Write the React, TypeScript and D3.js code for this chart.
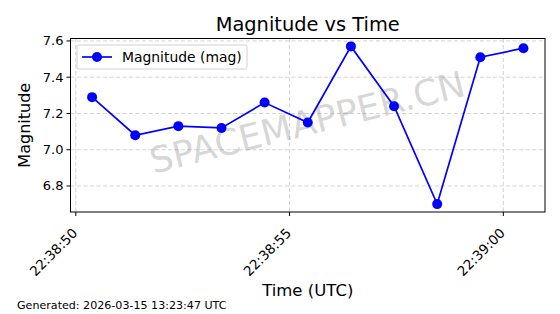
import React from "react";
import * as d3 from "d3";

const times = [
  "2026-03-15T22:38:50.381Z",
  "2026-03-15T22:38:51.390Z",
  "2026-03-15T22:38:52.399Z",
  "2026-03-15T22:38:53.408Z",
  "2026-03-15T22:38:54.417Z",
  "2026-03-15T22:38:55.426Z",
  "2026-03-15T22:38:56.435Z",
  "2026-03-15T22:38:57.444Z",
  "2026-03-15T22:38:58.453Z",
  "2026-03-15T22:38:59.462Z",
  "2026-03-15T22:39:00.471Z",
];
const magnitudes = [7.29, 7.08, 7.13, 7.12, 7.26, 7.15, 7.57, 7.24, 6.7, 7.51, 7.56];
const yTicks = [6.8, 7.0, 7.2, 7.4, 7.6];
const title = "Magnitude vs Time";
const xLabel = "Time (UTC)";
const yLabel = "Magnitude";
const legendLabel = "Magnitude (mag)";
const footer = "Generated: 2026-03-15 13:23:47 UTC";
const watermark = "SPACEMAPPER.CN";

const W = 560, H = 314;
const L = 70.5, R = 545, T = 38.5, B = 212;
const FONT = "DejaVu Sans, sans-serif";

export default function App() {
  const dates = times.map((t) => new Date(t));
  const data = dates.map((d, i) => ({ d, v: magnitudes[i] }));
  const [t0, t1] = d3.extent(dates) as [Date, Date];
  const span = +t1 - +t0;
  const x = d3.scaleUtc().domain([new Date(+t0 - span * 0.05), new Date(+t1 + span * 0.05)]).range([L, R]);
  const [vmin, vmax] = d3.extent(magnitudes) as [number, number];
  const vr = vmax - vmin;
  const y = d3.scaleLinear().domain([vmin - vr * 0.05, vmax + vr * 0.05]).range([B, T]);
  const xTicks = x.ticks(d3.utcSecond.every(5)!);
  const fmt = d3.utcFormat("%H:%M:%S");
  const line = d3.line<{ d: Date; v: number }>().x((p) => x(p.d)).y((p) => y(p.v));

  return (
    <svg width={W} height={H} style={{ position: "absolute", left: 0, top: 0, fontFamily: FONT }}>
      <rect width={W} height={H} fill="white" />
      {/* grid */}
      {xTicks.map((t, i) => (
        <line key={"gx" + i} x1={x(t)} x2={x(t)} y1={T} y2={B} stroke="#c8c8c8" strokeWidth={0.8} strokeDasharray="4,2.5" />
      ))}
      {yTicks.map((t, i) => (
        <line key={"gy" + i} x1={L} x2={R} y1={y(t)} y2={y(t)} stroke="#c8c8c8" strokeWidth={0.8} strokeDasharray="4,2.5" />
      ))}
      {/* watermark */}
      <text x={308} y={125} textAnchor="middle" dominantBaseline="middle" fontSize={36} fill="#808080" fillOpacity={0.33}
        transform="rotate(-14 308 125)" style={{ fontFamily: FONT }}>{watermark}</text>
      {/* line */}
      <path d={line(data) || ""} fill="none" stroke="#0000ff" strokeWidth={1.7} />
      {data.map((p, i) => (
        <circle key={"c" + i} cx={x(p.d)} cy={y(p.v)} r={5} fill="#0000ff" />
      ))}
      {/* spines */}
      <rect x={L} y={T} width={R - L} height={B - T} fill="none" stroke="black" strokeWidth={1} />
      {/* y ticks */}
      {yTicks.map((t, i) => (
        <g key={"yt" + i}>
          <line x1={L - 4} x2={L} y1={y(t)} y2={y(t)} stroke="black" strokeWidth={1} />
          <text x={L - 7} y={y(t)} textAnchor="end" dominantBaseline="central" fontSize={13} fill="black">{t.toFixed(1)}</text>
        </g>
      ))}
      {/* x ticks */}
      {xTicks.map((t, i) => {
        const ax = x(t) + 2.5;
        const ay = B + 22;
        return (
          <g key={"xt" + i}>
            <line x1={x(t)} x2={x(t)} y1={B} y2={B + 4} stroke="black" strokeWidth={1} />
            <text x={ax} y={ay} textAnchor="end" fontSize={13.5} fill="black"
              transform={`rotate(-45 ${ax} ${ay})`}>{fmt(t)}</text>
          </g>
        );
      })}
      {/* legend */}
      <rect x={77} y={45} width={170} height={24} rx={2} fill="white" fillOpacity={0.8} stroke="#d0d0d0" strokeWidth={1} />
      <line x1={82} x2={112} y1={57} y2={57} stroke="#0000ff" strokeWidth={1.7} />
      <circle cx={97} cy={57} r={5} fill="#0000ff" />
      <text x={122} y={57} dominantBaseline="central" fontSize={13.9} fill="black">{legendLabel}</text>
      {/* labels */}
      <text x={(L + R) / 2} y={31} textAnchor="middle" fontSize={19.4} fill="black">{title}</text>
      <text x={(L + R) / 2} y={296} textAnchor="middle" fontSize={16.5} fill="black">{xLabel}</text>
      <text x={30} y={(T + B) / 2} textAnchor="middle" fontSize={16} fill="black"
        transform={`rotate(-90 30 ${(T + B) / 2})`}>{yLabel}</text>
      <text x={17} y={309} fontSize={11.1} fill="black">{footer}</text>
    </svg>
  );
}
